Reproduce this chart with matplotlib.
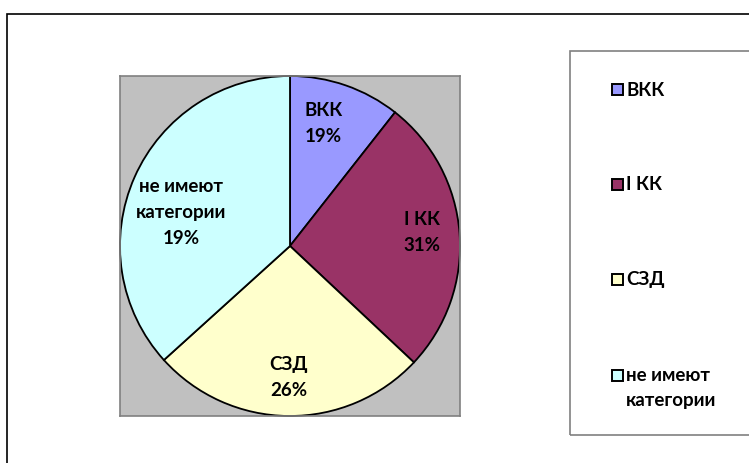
import numpy as np
import matplotlib

matplotlib.use("Agg")
import matplotlib.pyplot as plt
from matplotlib.patches import Rectangle

plt.rcParams["font.family"] = ["Lato", "Open Sans", "DejaVu Sans"]

# slice sizes; label texts as printed on the chart
categories = ["ВКК", "I КК", "СЗД", "не имеют\nкатегории"]
shares = [10.6, 26.4, 26.3, 36.7]
label_pct = ["19%", "31%", "26%", "19%"]
colors = ["#9999FF", "#993366", "#FFFFCC", "#CCFFFF"]
# label placement tweaks (radius, angle shift in degrees)
label_radius = [0.75, 0.78, 0.77, 0.67]
label_shift = [4, 2, 0, 6.5]

W, H = 749, 464
fig = plt.figure(figsize=(W / 100, H / 100), dpi=100)

# outer chart border
fig.patches.append(Rectangle((7 / W, -0.05), 1.1, (H - 15) / H + 0.05,
                             transform=fig.transFigure, fill=False,
                             edgecolor="black", linewidth=1.2))

ax = fig.add_axes([120 / W, (H - 417) / H, 340 / W, 340 / H])
wedges, _ = ax.pie(shares, colors=colors, startangle=90, counterclock=False,
                   frame=True,
                   wedgeprops=dict(edgecolor="black", linewidth=1.3))
ax.set_facecolor("#C0C0C0")
for s in ax.spines.values():
    s.set_edgecolor("#808080")
    s.set_linewidth(1.2)
ax.set_xticks([])
ax.set_yticks([])
ax.set_xlim(-1.0, 1.0)
ax.set_ylim(-1.0, 1.0)
ax.set_aspect("auto")

for w, name, pct, r, d in zip(wedges, categories, label_pct, label_radius, label_shift):
    theta = np.deg2rad((w.theta1 + w.theta2) / 2 + d)
    ax.text(r * np.cos(theta), r * np.sin(theta), f"{name}\n{pct}",
            ha="center", va="center", fontsize=13.5, fontweight="bold",
            color="black", linespacing=1.65)

# legend box
fig.patches.append(Rectangle((570 / W, (H - 436) / H), 1.0, (436 - 52) / H,
                             transform=fig.transFigure, fill=False,
                             edgecolor="#808080", linewidth=1.2))
leg_y = [90, 185, 280, 376]
for name, c, y in zip(categories, colors, leg_y):
    fig.patches.append(Rectangle((612 / W, (H - y - 5.5) / H), 11 / W, 11 / H,
                                 transform=fig.transFigure, facecolor=c,
                                 edgecolor="black", linewidth=1.4))
    if "\n" in name:
        fig.text(626 / W, (H - y + 9) / H, name, ha="left", va="top",
                 fontsize=13.5, fontweight="bold", linespacing=1.55)
    else:
        fig.text(626 / W, (H - y) / H, name, ha="left", va="center",
                 fontsize=13.5, fontweight="bold")

fig.savefig("out.png", dpi=100)
